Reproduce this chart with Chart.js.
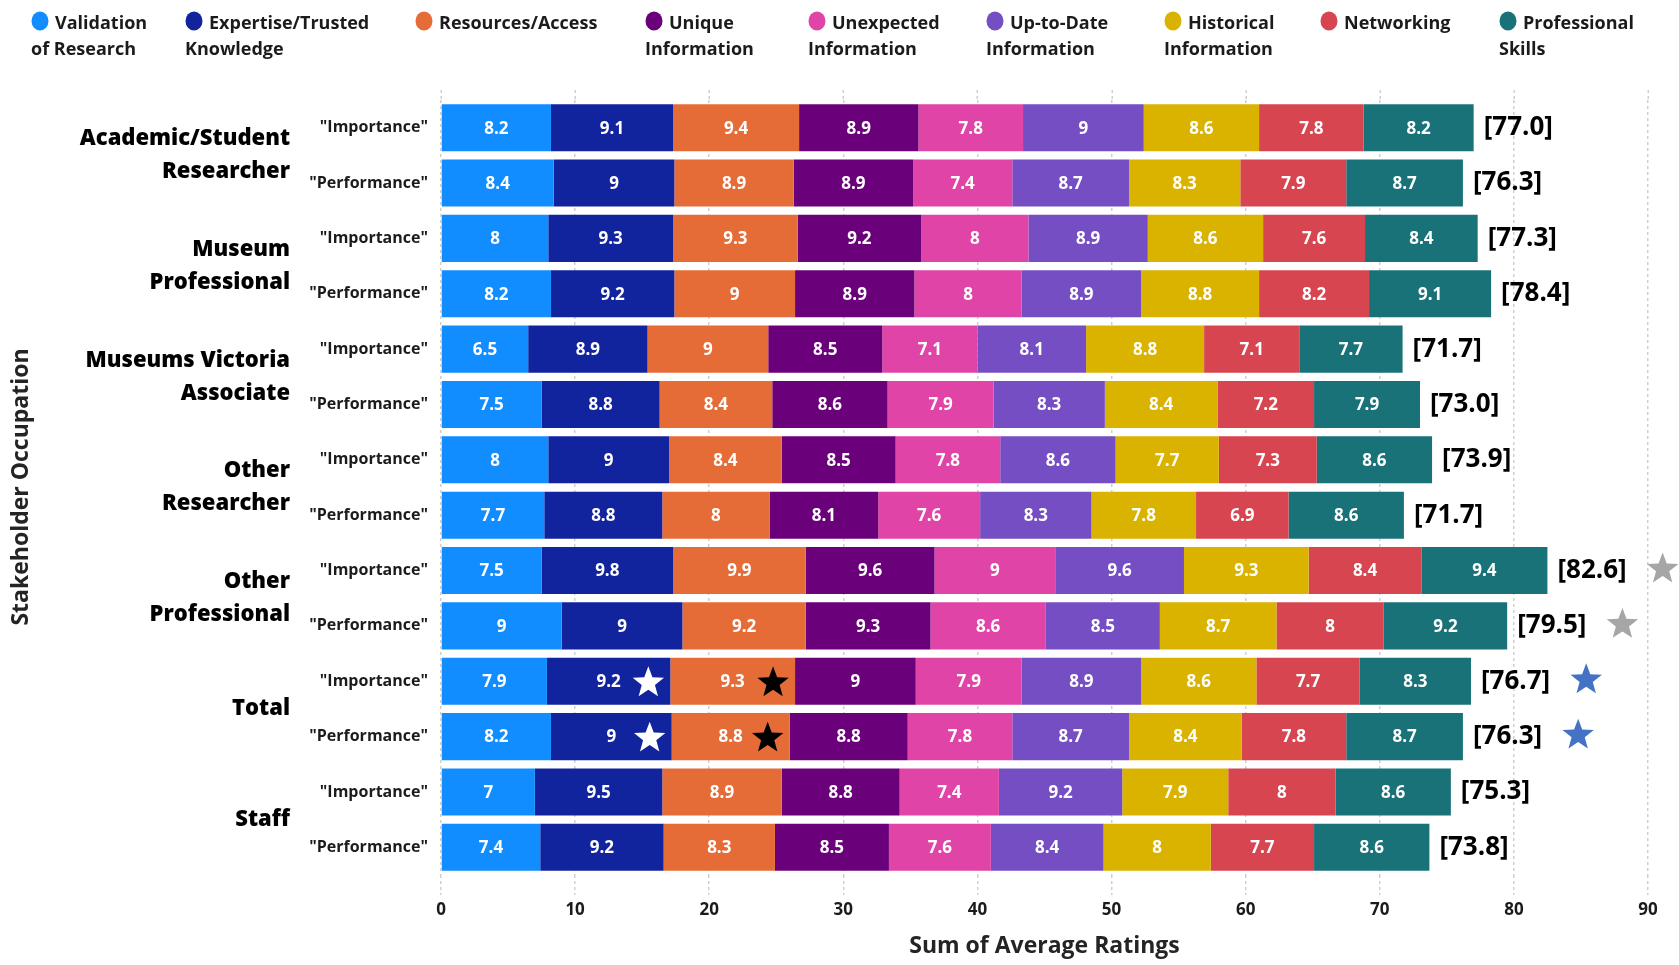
<!DOCTYPE html>
<html>
<head>
<meta charset="utf-8">
<script src="https://cdn.jsdelivr.net/npm/chart.js@4.4.0/dist/chart.umd.min.js"></script>
<style>
  html, body { margin: 0; padding: 0; background: #ffffff; }
  #wrap { width: 1679px; height: 965px; position: relative; }
</style>
</head>
<body>
<div id="wrap"><canvas id="chart" width="1679" height="965"></canvas></div>
<script>
// ---- data ----
const groups = [
  ['Academic/Student', 'Researcher'],
  ['Museum', 'Professional'],
  ['Museums Victoria', 'Associate'],
  ['Other', 'Researcher'],
  ['Other', 'Professional'],
  ['Total'],
  ['Staff']
];
const measures = ['"Importance"', '"Performance"'];

const factorNames = [
  ['Validation', 'of Research'],
  ['Expertise/Trusted', 'Knowledge'],
  ['Resources/Access'],
  ['Unique', 'Information'],
  ['Unexpected', 'Information'],
  ['Up-to-Date', 'Information'],
  ['Historical', 'Information'],
  ['Networking'],
  ['Professional', 'Skills']
];

// one value per row, rows ordered group by group, Importance then Performance
const validation   = [8.2, 8.4, 8,   8.2, 6.5, 7.5, 8,   7.7, 7.5, 9,   7.9, 8.2, 7,   7.4];
const expertise    = [9.1, 9,   9.3, 9.2, 8.9, 8.8, 9,   8.8, 9.8, 9,   9.2, 9,   9.5, 9.2];
const resources    = [9.4, 8.9, 9.3, 9,   9,   8.4, 8.4, 8,   9.9, 9.2, 9.3, 8.8, 8.9, 8.3];
const unique       = [8.9, 8.9, 9.2, 8.9, 8.5, 8.6, 8.5, 8.1, 9.6, 9.3, 9,   8.8, 8.8, 8.5];
const unexpected   = [7.8, 7.4, 8,   8,   7.1, 7.9, 7.8, 7.6, 9,   8.6, 7.9, 7.8, 7.4, 7.6];
const upToDate     = [9,   8.7, 8.9, 8.9, 8.1, 8.3, 8.6, 8.3, 9.6, 8.5, 8.9, 8.7, 9.2, 8.4];
const historical   = [8.6, 8.3, 8.6, 8.8, 8.8, 8.4, 7.7, 7.8, 9.3, 8.7, 8.6, 8.4, 7.9, 8];
const networking   = [7.8, 7.9, 7.6, 8.2, 7.1, 7.2, 7.3, 6.9, 8.4, 8,   7.7, 7.8, 8,   7.7];
const professional = [8.2, 8.7, 8.4, 9.1, 7.7, 7.9, 8.6, 8.6, 9.4, 9.2, 8.3, 8.7, 8.6, 8.6];

const totals = [77.0, 76.3, 77.3, 78.4, 71.7, 73.0, 73.9, 71.7, 82.6, 79.5, 76.7, 76.3, 75.3, 73.8];

const xTicks = [0, 10, 20, 30, 40, 50, 60, 70, 80, 90];

// highlight markers: stars after a row total, and stars inside a segment
const totalStars = [
  { row: 8,  color: '#a6a6a6' },
  { row: 9,  color: '#a6a6a6' },
  { row: 10, color: '#4472c4' },
  { row: 11, color: '#4472c4' }
];
const segmentStars = [
  { row: 10, series: 1, color: '#ffffff' },
  { row: 11, series: 1, color: '#ffffff' },
  { row: 10, series: 2, color: '#000000' },
  { row: 11, series: 2, color: '#000000' }
];

// ---- styling ----
const seriesValues = [validation, expertise, resources, unique, unexpected, upToDate, historical, networking, professional];
const seriesColors = ['#118dff', '#12239e', '#e66c37', '#6b007b', '#e044a7', '#744ec2', '#d9b300', '#d64550', '#197278'];
const legendLefts = [31, 185, 415, 645, 808, 986, 1164, 1320, 1499];
const FONT = '"Open Sans", "DejaVu Sans", sans-serif';
const TEXT = '#1b1b1b';
const GRID = '#cfcfcf';

const rowLabels = [];
groups.forEach(() => measures.forEach(m => rowLabels.push(m)));

const datasets = seriesValues.map((vals, i) => ({
  label: factorNames[i].join(' '),
  data: vals,
  backgroundColor: seriesColors[i],
  borderWidth: 0,
  categoryPercentage: 1,
  barPercentage: 0.85
}));

function drawStar(ctx, cx, cy, R, color) {
  const r = R * 0.42;
  // centre the star's bounding box vertically on cy
  const oy = cy + 0.0955 * R;
  ctx.beginPath();
  for (let k = 0; k < 10; k++) {
    const rad = k % 2 === 0 ? R : r;
    const a = -Math.PI / 2 + k * Math.PI / 5;
    const px = cx + rad * Math.cos(a);
    const py = oy + rad * Math.sin(a);
    if (k === 0) ctx.moveTo(px, py); else ctx.lineTo(px, py);
  }
  ctx.closePath();
  ctx.fillStyle = color;
  ctx.fill();
}

// carry the dotted value grid a little above the plot area
const gridCap = {
  id: 'gridCap',
  beforeDatasetsDraw(chart) {
    const ctx = chart.ctx;
    const xs = chart.scales.x;
    const top = chart.chartArea.top;
    ctx.save();
    ctx.strokeStyle = GRID;
    ctx.lineWidth = 1.5;
    ctx.setLineDash([3, 3]);
    xTicks.forEach(v => {
      const x = Math.round(xs.getPixelForValue(v)) + 0.25;
      ctx.beginPath();
      ctx.moveTo(x, top - 10);
      ctx.lineTo(x, top);
      ctx.stroke();
    });
    ctx.restore();
  }
};

const decorations = {
  id: 'decorations',
  afterDatasetsDraw(chart) {
    const ctx = chart.ctx;
    const yScale = chart.scales.y;
    ctx.save();

    // segment value labels
    ctx.font = '700 17px ' + FONT;
    ctx.fillStyle = '#ffffff';
    ctx.textAlign = 'center';
    ctx.textBaseline = 'middle';
    chart.data.datasets.forEach((ds, di) => {
      const meta = chart.getDatasetMeta(di);
      meta.data.forEach((bar, ri) => {
        const cx = (bar.x + bar.base) / 2;
        ctx.fillText(String(ds.data[ri]), cx, bar.y + 1);
      });
    });

    // stars inside segments
    segmentStars.forEach(s => {
      const bar = chart.getDatasetMeta(s.series).data[s.row];
      drawStar(ctx, bar.x - 22, bar.y, 16.5, s.color);
    });

    // row totals
    const lastMeta = chart.getDatasetMeta(chart.data.datasets.length - 1);
    ctx.font = '700 26px ' + FONT;
    ctx.fillStyle = '#000000';
    ctx.textAlign = 'left';
    const labelEnds = [];
    lastMeta.data.forEach((bar, ri) => {
      const txt = '[' + totals[ri].toFixed(1) + ']';
      const x0 = bar.x + 10;
      ctx.fillText(txt, x0, bar.y);
      labelEnds[ri] = x0 + ctx.measureText(txt).width;
    });
    totalStars.forEach(s => {
      const bar = lastMeta.data[s.row];
      drawStar(ctx, labelEnds[s.row] + 36, bar.y - 3, 16.5, s.color);
    });

    // group labels on the category axis
    ctx.font = '800 22px ' + FONT;
    ctx.fillStyle = '#000000';
    ctx.textAlign = 'right';
    groups.forEach((lines, gi) => {
      const yc = (yScale.getPixelForValue(gi * 2) + yScale.getPixelForValue(gi * 2 + 1)) / 2;
      const step = 33;
      const start = yc - (lines.length - 1) * step / 2;
      lines.forEach((ln, li) => ctx.fillText(ln, 290, start + li * step));
    });

    // vertical axis title
    ctx.save();
    ctx.translate(21, 487);
    ctx.rotate(-Math.PI / 2);
    ctx.font = '700 23px ' + FONT;
    ctx.fillStyle = '#252423';
    ctx.textAlign = 'center';
    ctx.fillText('Stakeholder Occupation', 0, 0);
    ctx.restore();

    // legend
    ctx.font = '700 18px ' + FONT;
    ctx.textAlign = 'left';
    factorNames.forEach((lines, i) => {
      const left = legendLefts[i];
      ctx.beginPath();
      ctx.ellipse(left + 9, 21, 8.5, 9.5, 0, 0, Math.PI * 2);
      ctx.fillStyle = seriesColors[i];
      ctx.fill();
      ctx.fillStyle = TEXT;
      ctx.fillText(lines[0], left + 24, 24);
      if (lines[1]) ctx.fillText(lines[1], left, 50);
    });

    ctx.restore();
  }
};

new Chart(document.getElementById('chart'), {
  type: 'bar',
  data: { labels: rowLabels, datasets },
  options: {
    indexAxis: 'y',
    responsive: false,
    animation: false,
    layout: { padding: { top: 100, right: 31, left: 0, bottom: 0 } },
    plugins: { legend: { display: false }, tooltip: { enabled: false } },
    scales: {
      x: {
        stacked: true,
        min: xTicks[0],
        max: xTicks[xTicks.length - 1],
        afterBuildTicks(scale) { scale.ticks = xTicks.map(v => ({ value: v })); },
        afterFit(scale) { scale.height = 90; },
        ticks: { font: { family: FONT, size: 17, weight: '700' }, color: TEXT, padding: 5 },
        grid: { color: GRID, lineWidth: 1.5, tickLength: 20, tickColor: GRID, tickBorderDash: [3, 3] },
        border: { display: false, dash: [3, 3] },
        title: {
          display: true,
          text: 'Sum of Average Ratings',
          font: { family: FONT, size: 23, weight: '700' },
          color: '#252423',
          padding: { top: 0, bottom: 5 }
        }
      },
      y: {
        stacked: true,
        afterFit(scale) { scale.width = 441; },
        ticks: { font: { family: FONT, size: 16, weight: '700' }, color: TEXT, padding: 13 },
        grid: { display: false, drawTicks: false },
        border: { display: false }
      }
    }
  },
  plugins: [gridCap, decorations]
});
</script>
</body>
</html>
